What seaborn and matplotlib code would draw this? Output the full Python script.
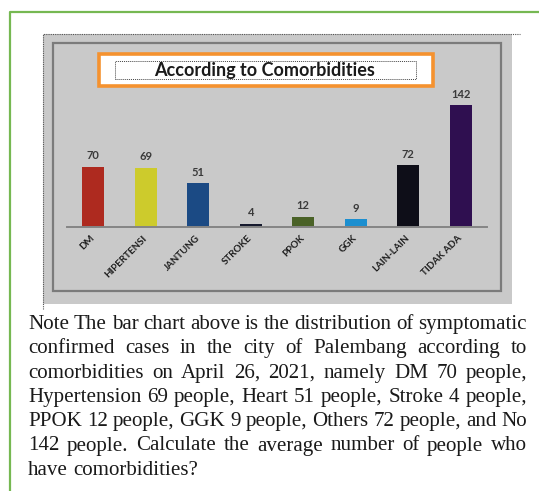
import matplotlib
matplotlib.use("Agg")
import matplotlib.pyplot as plt
import seaborn as sns
import pandas as pd
from matplotlib.patches import Rectangle
from matplotlib.lines import Line2D

# ---------------- data ----------------
categories = ["DM", "HIPERTENSI", "JANTUNG", "STROKE", "PPOK", "GGK", "LAIN-LAIN", "TIDAK ADA"]
values = [70, 69, 51, 4, 12, 9, 72, 142]
bar_colors = ["#AE2A1F", "#CDCB2C", "#1B4A84", "#161A2E", "#4A6227", "#1C8FD0", "#0E0E18", "#2F0F50"]
title = "According to Comorbidities"
note_lines = [
    "Note The bar chart above is the distribution of symptomatic",
    "confirmed cases in the city of Palembang according to",
    "comorbidities on April 26, 2021, namely DM 70 people,",
    "Hypertension 69 people, Heart 51 people, Stroke 4 people,",
    "PPOK 12 people, GGK 9 people, Others 72 people, and No",
    "142 people. Calculate the average number of people who",
    "have comorbidities?",
]

# ---------------- layout helpers (pixel coords, origin top-left) ----------------
W, H = 539, 491
fig = plt.figure(figsize=(W / 100, H / 100), dpi=100)
fig.patch.set_facecolor("white")


def rect(x0, y0, x1, y1, **kw):
    r = Rectangle((x0 / W, 1 - y1 / H), (x1 - x0) / W, (y1 - y0) / H,
                  transform=fig.transFigure, **kw)
    fig.add_artist(r)
    return r


def line(xs, ys, **kw):
    l = Line2D([x / W for x in xs], [1 - y / H for y in ys],
               transform=fig.transFigure, **kw)
    fig.add_artist(l)
    return l


# green frame (top & left)
line([9.5, 9.5, 539], [491, 11.5, 11.5], color="#76B852", lw=1.6, zorder=1)

# gray panel with dotted top/left border
rect(43, 34, 512, 304, facecolor="#C9C9C9", edgecolor="none", zorder=-3)
line([43, 43, 520], [309, 34, 34], color="#555555", lw=0.8, ls=(0, (1, 1)), zorder=-2)
# inner frame
rect(53, 42.5, 501, 290.5, facecolor="none", edgecolor="#7B7B7B", lw=1.6, zorder=-2)

# title box
rect(99, 54, 433, 86, facecolor="white", edgecolor="#F5922F", lw=2.6, zorder=2)
rect(115, 61, 416, 79, facecolor="none", edgecolor="#444444", lw=0.7, ls=(0, (1, 1)), zorder=3)

renderer = fig.canvas.get_renderer()


def text_width(s, fs, family, weight="normal"):
    t = fig.text(0, 0, s, fontsize=fs, family=family, fontweight=weight)
    w = t.get_window_extent(renderer).width
    t.remove()
    return w


tfs = 11 * 219 / text_width(title, 11, "Lato", "bold")
fig.text(264.5 / W, 1 - 70.5 / H, title, ha="center", va="center", fontsize=tfs,
         family="Lato", fontweight="bold", color="#1A1A1A", zorder=4)

# ---------------- bar chart ----------------
ax = fig.add_axes([67 / W, 1 - 227 / H, 420 / W, 132 / H])
ax.set_zorder(4)
ax.patch.set_visible(False)
df = pd.DataFrame({"category": categories, "value": values})
sns.barplot(data=df, x="category", y="value", hue="category",
            palette=dict(zip(categories, bar_colors)), width=0.41,
            saturation=1, legend=False, ax=ax, edgecolor="none")
ax.set_xlim(-0.5, 7.5)
ax.set_ylim(0, 154)
for s in ["top", "right", "left"]:
    ax.spines[s].set_visible(False)
ax.spines["bottom"].set_color("#858585")
ax.spines["bottom"].set_linewidth(1.4)
ax.set_yticks([])
ax.set_xlabel("")
ax.set_ylabel("")
for c in ax.containers:
    ax.bar_label(c, padding=4, fontsize=8, fontweight="bold", color="#3A3A3A", family="Lato")
ax.set_xticks(range(len(categories)))
ax.set_xticklabels(categories, rotation=45, ha="right", va="center", rotation_mode="anchor",
                   fontsize=7, fontweight="bold", family="Lato", color="#1E1E1E")
ax.tick_params(axis="x", length=0, pad=7)

# ---------------- justified note text ----------------
fam = "Liberation Serif"
left, right = 28, 527
fs = 13 * (right - left) / text_width(note_lines[0], 13, fam)
space_w = text_width("a b", fs, fam) - text_width("ab", fs, fam)
y0, dy = 329, 24.3
for i, ln in enumerate(note_lines):
    words = ln.split()
    widths = [text_width(w, fs, fam) for w in words]
    if i < len(note_lines) - 1 and len(words) > 1:
        gap = (right - left - sum(widths)) / (len(words) - 1)
    else:
        gap = space_w
    x = left
    y = y0 + dy * i
    for w, wd in zip(words, widths):
        fig.text(x / W, 1 - y / H, w, fontsize=fs, family=fam, color="#1A1A1A",
                 ha="left", va="baseline")
        x += wd + gap

fig.savefig("out.png", dpi=100, facecolor="white")
